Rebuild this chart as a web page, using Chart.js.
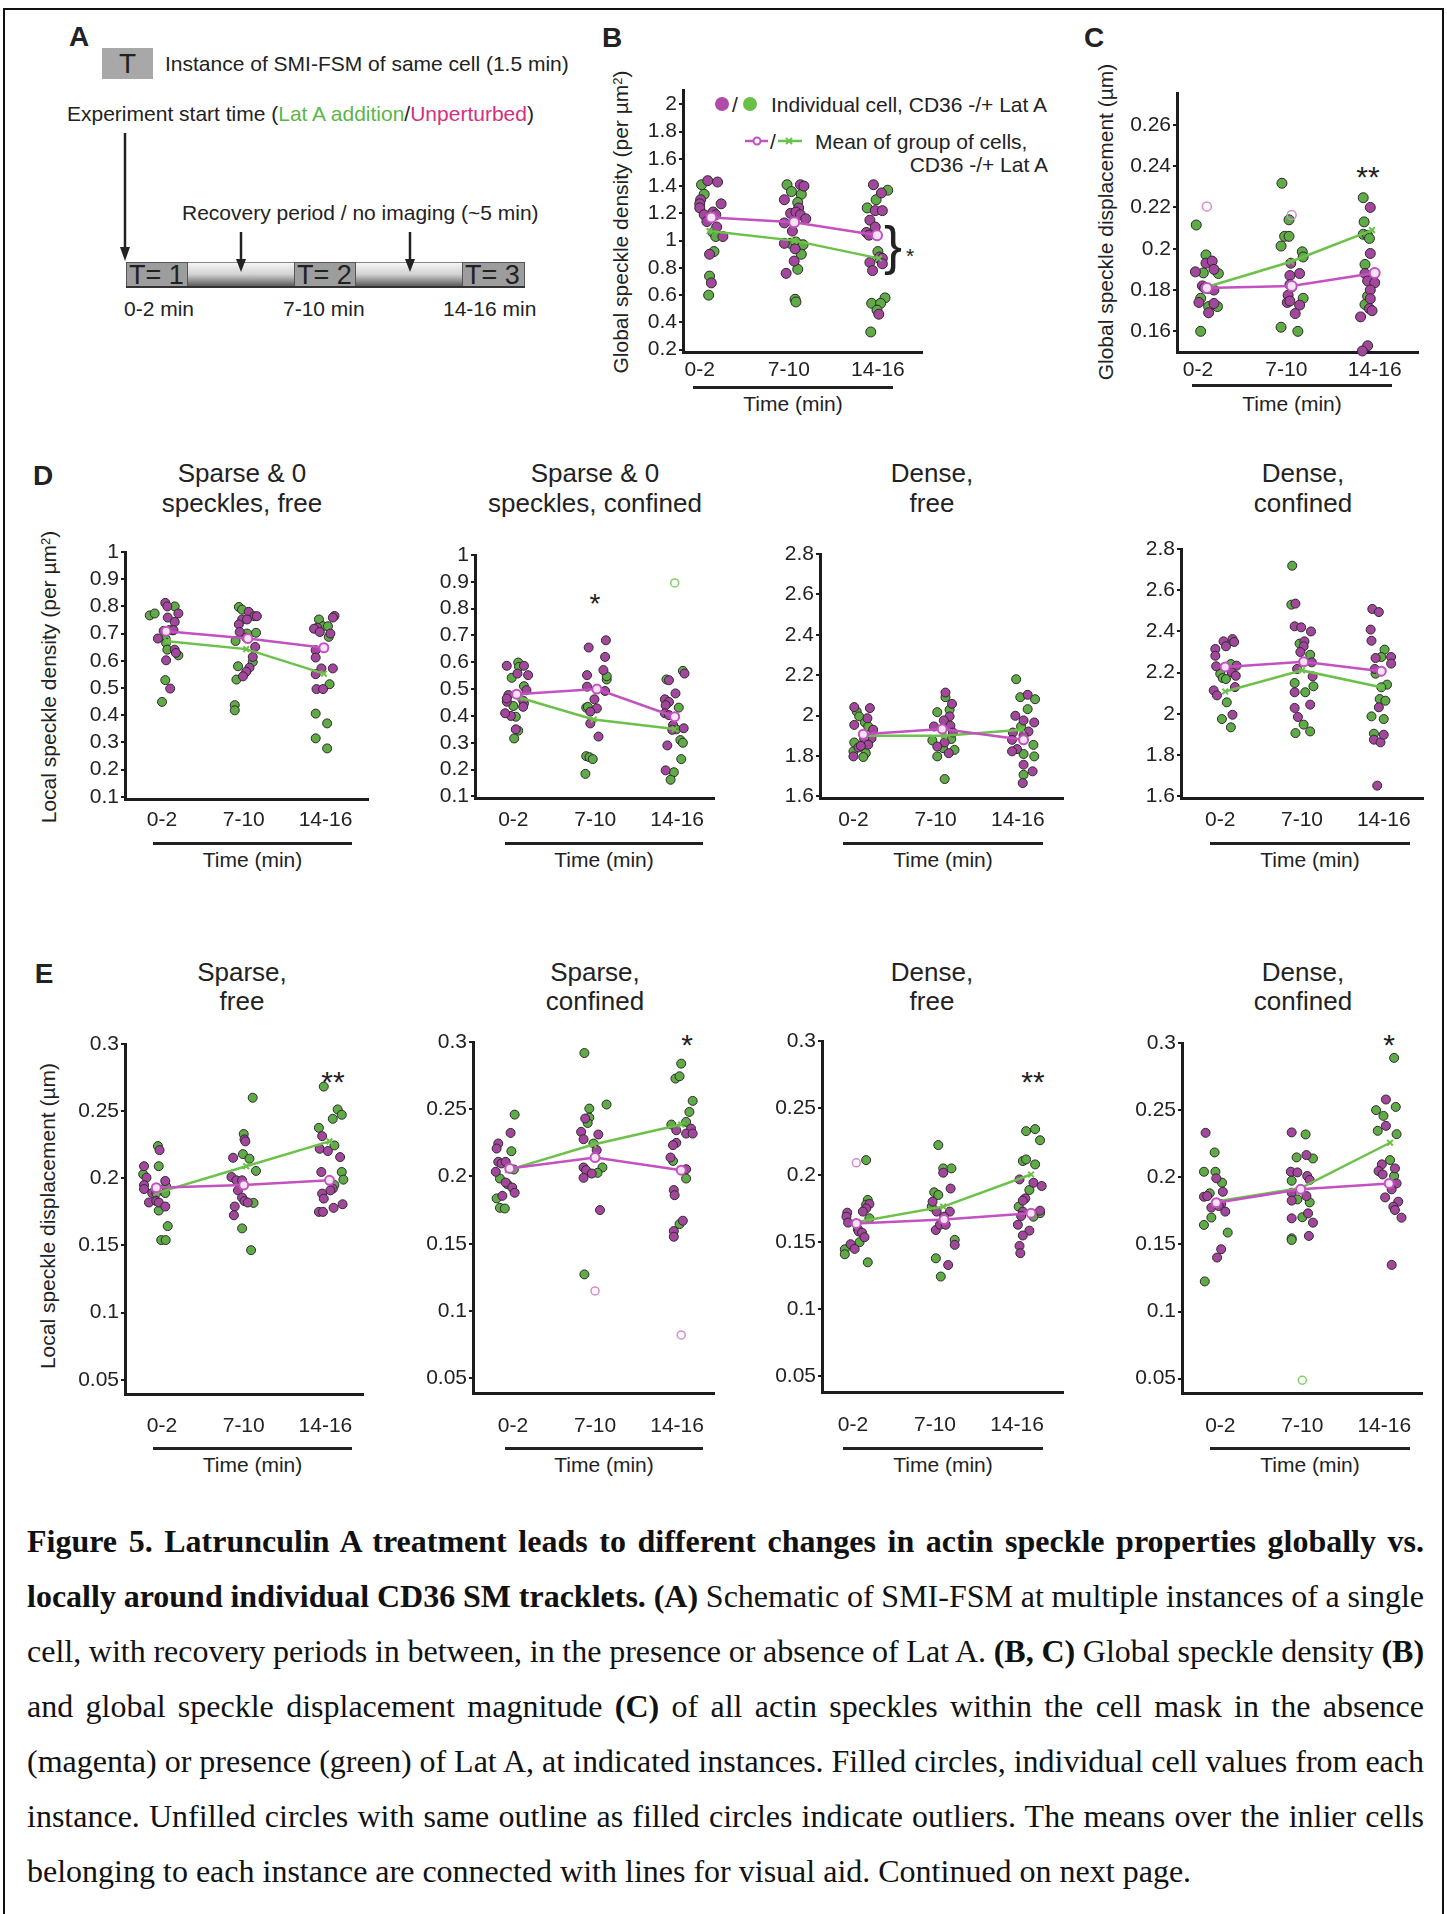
<!DOCTYPE html>
<html>
<head>
<meta charset="utf-8">
<script src="https://cdn.jsdelivr.net/npm/chart.js@4.4.1/dist/chart.umd.min.js"></script>
<style>
  html, body { margin: 0; padding: 0; background: #fff; }
  body { width: 1447px; height: 1914px; position: relative; overflow: hidden;
         font-family: "Liberation Sans", Arial, Helvetica, sans-serif; color: #222; }
  .t { position: absolute; white-space: nowrap; line-height: 1; }
  .t sup { position: relative; top: -0.5em; vertical-align: baseline; font-size: 0.62em; }
  canvas { position: absolute; }
  .frame { position: absolute; left: 3px; top: 8px; width: 1441px; height: 1930px;
           border: 2px solid #111; box-sizing: border-box; }
  .box { position: absolute; box-sizing: border-box; }
  .cap { position: absolute; left: 27px; top: 1514px; width: 1397px;
         font-family: "Liberation Serif", "Times New Roman", serif; font-size: 32px;
         line-height: 55px; color: #111; }
  .cap div { text-align: justify; text-align-last: justify; height: 55px; word-spacing: -5px; }
  .cap div.last { text-align-last: left; word-spacing: 0; }
</style>
</head>
<body>
<div class="frame"></div>

<!-- panel A schematic -->
<div class="box" style="left:102px;top:48px;width:51px;height:31px;background:#a8a8a8;"></div>
<div class="box" style="left:126px;top:262px;width:62px;height:26px;background:#9d9d9d;border:1px solid #555;"></div>
<div class="box" style="left:188px;top:262px;width:106px;height:26px;background:linear-gradient(#f6f6f6,#d2d2d2 45%,#4a4a4a);border-top:1px solid #888;"></div>
<div class="box" style="left:294px;top:262px;width:62px;height:26px;background:#9d9d9d;border:1px solid #555;"></div>
<div class="box" style="left:356px;top:262px;width:106px;height:26px;background:linear-gradient(#f6f6f6,#d2d2d2 45%,#4a4a4a);border-top:1px solid #888;"></div>
<div class="box" style="left:462px;top:262px;width:63px;height:26px;background:#9d9d9d;border:1px solid #555;"></div>
<div class="box" style="left:126px;top:286px;width:399px;height:2px;background:#333;"></div>
<svg style="position:absolute;left:0;top:0" width="600" height="330">
  <g stroke="#222" stroke-width="2.5" fill="#222">
    <line x1="125" y1="133" x2="125" y2="250"/>
    <polygon points="120,247 130,247 125,261" stroke="none"/>
    <line x1="241" y1="232" x2="241" y2="262"/>
    <polygon points="236,259 246,259 241,272" stroke="none"/>
    <line x1="410" y1="232" x2="410" y2="262"/>
    <polygon points="405,259 415,259 410,272" stroke="none"/>
  </g>
</svg>

<!-- panel B legend symbols -->
<svg style="position:absolute;left:700px;top:90px" width="120" height="70">
  <circle cx="22" cy="14" r="7" fill="#b04ba9"/>
  <circle cx="50" cy="14" r="7" fill="#6abf46"/>
  <line x1="45" y1="51" x2="68" y2="51" stroke="#c451c1" stroke-width="2.5"/>
  <circle cx="57" cy="51" r="3.5" fill="#fff" stroke="#c451c1" stroke-width="2"/>
  <line x1="78" y1="51" x2="102" y2="51" stroke="#6bc149" stroke-width="2.5"/>
  <path d="M86 48 L92 54 M92 48 L86 54" stroke="#6bc149" stroke-width="2"/>
</svg>

<div class="cap">
  <div><b>Figure 5. Latrunculin A treatment leads to different changes in actin speckle properties globally vs.</b></div>
  <div><b>locally around individual CD36 SM tracklets. (A)</b> Schematic of SMI-FSM at multiple instances of a single</div>
  <div>cell, with recovery periods in between, in the presence or absence of Lat A. <b>(B, C)</b> Global speckle density <b>(B)</b></div>
  <div>and global speckle displacement magnitude <b>(C)</b> of all actin speckles within the cell mask in the absence</div>
  <div>(magenta) or presence (green) of Lat A, at indicated instances. Filled circles, individual cell values from each</div>
  <div>instance. Unfilled circles with same outline as filled circles indicate outliers. The means over the inlier cells</div>
  <div class="last">belonging to each instance are connected with lines for visual aid. Continued on next page.</div>
</div>

<script>
// axis categories and tick labels
const timeLabels = ['0-2', '7-10', '14-16'];
const ticksB = [0.2, 0.4, 0.6, 0.8, 1, 1.2, 1.4, 1.6, 1.8, 2];
const ticksC = [0.16, 0.18, 0.2, 0.22, 0.24, 0.26];
const ticksDsparse = [0.1, 0.2, 0.3, 0.4, 0.5, 0.6, 0.7, 0.8, 0.9, 1];
const ticksDdense = [1.6, 1.8, 2, 2.2, 2.4, 2.6, 2.8];
const ticksE = [0.05, 0.1, 0.15, 0.2, 0.25, 0.3];

// B - global speckle density, [x position, value]
const bMag = [[1.09,1.44],[1.20,1.43],[1.01,1.30],[1.00,1.27],[1.00,1.24],[1.24,1.27],[1.05,1.19],[1.15,1.21],[1.18,1.19],[1.08,1.14],[1.19,1.10],[1.26,1.03],[1.11,0.90],[1.13,0.69],
  [2.13,1.41],[2.17,1.40],[1.95,1.30],[2.11,1.24],[2.02,1.20],[2.08,1.21],[2.13,1.19],[2.19,1.16],[1.95,1.13],[2.04,1.07],[1.95,0.98],[2.07,0.94],[2.06,0.85],[1.97,0.76],
  [2.95,1.41],[3.04,1.35],[2.97,1.22],[3.05,1.22],[2.91,1.15],[2.97,1.10],[2.87,1.06],[2.90,1.04],[3.02,0.88],[3.05,0.87],[2.91,0.84],[3.05,0.83],[2.94,0.78],[3.01,0.46]];
const bGrn = [[1.02,1.41],[1.05,1.34],[1.15,1.06],[1.18,1.03],[1.16,0.92],[1.11,0.74],[1.10,0.60],
  [1.98,1.41],[2.03,1.36],[2.14,1.34],[2.10,1.28],[2.02,0.98],[2.08,0.99],[2.16,0.97],[2.14,0.90],[2.10,0.79],[2.07,0.57],[2.08,0.55],
  [3.11,1.37],[2.98,1.30],[2.88,1.24],[3.00,0.92],[3.03,0.86],[3.08,0.58],[2.93,0.54],[3.03,0.54],[2.99,0.49],[2.92,0.33]];
const bMagMean = [[1.13,1.17],[2.06,1.135],[2.99,1.04]];
const bGrnMean = [[1.11,1.07],[2.06,1.00],[3.01,0.87]];

// C - global speckle displacement
const cMag = [[1.09,0.193],[1.16,0.194],[0.97,0.1888],[1.18,0.190],[1.05,0.182],[1.075,0.181],[1.11,0.1807],[1.18,0.180],[1.01,0.174],[1.18,0.1735],[1.12,0.169],
  [2.05,0.193],[2.15,0.188],[2.04,0.187],[2.04,0.1826],[2.06,0.1815],[2.02,0.1775],[2.01,0.174],[2.04,0.1747],[2.15,0.1727],[2.10,0.1686],
  [2.95,0.220],[2.95,0.1977],[2.89,0.188],[2.92,0.1844],[3.00,0.1835],[2.95,0.180],[2.95,0.1758],[2.94,0.171],[2.97,0.170],[2.84,0.167],[2.92,0.153],[2.86,0.1505]];
const cGrn = [[0.98,0.2115],[1.09,0.197],[1.06,0.1883],[1.23,0.188],[1.03,0.176],[1.12,0.172],[1.22,0.172],[1.03,0.160],
  [1.95,0.2317],[2.03,0.214],[1.98,0.206],[2.03,0.206],[1.94,0.2013],[2.18,0.1985],[2.19,0.196],[2.19,0.176],[1.94,0.162],[2.13,0.160],
  [2.87,0.2247],[2.88,0.213],[2.87,0.207],[2.92,0.2065],[2.94,0.205],[2.89,0.1924],[2.92,0.177],[2.89,0.173]];
const cMagOut = [[1.10,0.2205],[2.06,0.2163]];
const cMagMean = [[1.10,0.181],[2.06,0.182],[3.00,0.1883]];
const cGrnMean = [[1.10,0.1815],[2.05,0.1937],[2.97,0.209]];

// D - local speckle density
const d1Mag = [[1.04,0.813],[1.065,0.80],[1.07,0.759],[1.20,0.774],[1.155,0.743],[1.02,0.71],[1.09,0.713],[1.14,0.713],[0.95,0.682],[1.155,0.641],[1.17,0.629],[1.05,0.602],[1.10,0.498],
  [2.06,0.78],[1.98,0.752],[2.13,0.764],[2.16,0.764],[2.04,0.752],[1.94,0.734],[1.95,0.706],[2.03,0.685],[2.14,0.651],[2.11,0.614],[2.07,0.575],[2.03,0.56],[1.99,0.543],
  [2.90,0.722],[3.11,0.765],[3.09,0.759],[2.86,0.718],[2.93,0.706],[3.06,0.70],[2.88,0.639],[2.88,0.612],[2.95,0.572],[3.09,0.572],[2.88,0.551],[2.89,0.496],[2.97,0.496]];
const d1Grn = [[1.155,0.80],[0.85,0.767],[0.91,0.774],[1.13,0.712],[1.045,0.68],[1.05,0.666],[1.065,0.641],[1.20,0.62],[1.04,0.529],[1.00,0.449],
  [1.94,0.798],[1.98,0.788],[2.04,0.70],[2.15,0.703],[1.90,0.673],[2.11,0.596],[1.93,0.58],[1.91,0.531],[1.89,0.437],[1.89,0.418],
  [2.92,0.752],[2.97,0.727],[3.03,0.727],[3.04,0.688],[3.05,0.514],[2.88,0.406],[3.02,0.37],[2.88,0.315],[3.02,0.278]];
const d1MagMean = [[1.05,0.709],[2.05,0.682],[2.98,0.648]];
const d1GrnMean = [[1.065,0.672],[2.03,0.643],[2.98,0.553]];

const d2Mag = [[0.92,0.587],[1.13,0.587],[1.05,0.558],[1.18,0.552],[0.94,0.478],[1.16,0.496],[0.92,0.453],[0.92,0.465],[1.12,0.457],[1.12,0.434],[0.97,0.40],[0.90,0.41],[1.03,0.35],
  [1.92,0.655],[2.13,0.682],[2.12,0.62],[2.10,0.571],[1.90,0.552],[1.90,0.509],[2.12,0.493],[1.99,0.462],[2.02,0.428],[1.94,0.416],[1.94,0.372],[2.04,0.323],
  [3.09,0.558],[2.90,0.533],[2.98,0.484],[2.85,0.462],[2.90,0.452],[2.86,0.44],[2.85,0.41],[2.90,0.403],[2.95,0.366],[2.94,0.348],[3.08,0.354],[2.88,0.29],[2.86,0.197]];
const d2Grn = [[1.06,0.599],[1.07,0.583],[0.98,0.542],[1.13,0.511],[1.00,0.437],[1.13,0.447],[1.03,0.397],[1.06,0.345],[1.01,0.316],
  [2.14,0.536],[2.14,0.548],[1.89,0.431],[1.91,0.434],[1.89,0.25],[1.93,0.246],[1.97,0.239],[1.88,0.184],
  [3.07,0.568],[2.87,0.536],[3.02,0.431],[2.99,0.35],[3.04,0.31],[3.07,0.30],[3.05,0.239],[2.96,0.19],[2.92,0.162]];
const d2GrnOut = [[2.97,0.896]];
const d2MagMean = [[1.04,0.481],[2.02,0.50],[2.97,0.397]];
const d2GrnMean = [[1.08,0.468],[1.98,0.387],[2.97,0.351]];

const d3Mag = [[1.01,2.042],[1.20,2.037],[1.17,1.987],[1.01,1.954],[1.24,1.93],[1.22,1.888],[1.13,1.884],[1.18,1.856],[1.06,1.842],[1.09,1.85],[1.00,1.798],
  [2.12,2.114],[2.20,2.058],[2.17,1.996],[2.10,1.976],[1.98,1.946],[2.18,1.95],[2.21,1.916],[2.11,1.867],[2.02,1.847],[2.16,1.814],
  [3.12,2.103],[2.97,1.999],[3.20,1.966],[3.07,1.976],[2.94,1.916],[3.13,1.921],[3.07,1.90],[2.93,1.88],[2.99,1.834],[2.93,1.823],[3.07,1.757],[3.18,1.724],[3.06,1.666]];
const d3Grn = [[1.04,2.02],[1.07,1.996],[1.14,1.966],[1.18,1.946],[1.01,1.867],[1.00,1.823],[1.15,1.814],[1.12,1.795],
  [2.12,2.091],[2.17,2.029],[2.02,2.017],[1.96,1.877],[2.19,1.884],[2.09,1.839],[2.23,1.83],[2.02,1.798],[2.11,1.686],
  [2.98,2.18],[3.03,2.091],[3.21,2.081],[3.12,2.032],[3.04,1.946],[3.19,1.855],[3.07,1.81],[3.20,1.798],[3.07,1.707]];
const d3MagMean = [[1.12,1.908],[2.08,1.933],[3.07,1.88]];
const d3GrnMean = [[1.14,1.90],[2.10,1.90],[3.05,1.93]];

const d4Mag = [[1.04,2.352],[1.15,2.363],[1.17,2.349],[0.94,2.315],[1.07,2.328],[0.94,2.282],[1.20,2.234],[0.95,2.231],[1.14,2.202],[1.19,2.185],[1.18,2.13],[0.92,2.114],[0.96,2.09],[1.15,1.996],
  [1.92,2.535],[1.91,2.425],[1.99,2.42],[2.11,2.40],[2.03,2.352],[2.02,2.328],[1.98,2.30],[1.94,2.218],[2.12,2.25],[2.13,2.182],[1.91,2.105],[2.10,2.045],[1.91,2.029],[1.95,1.985],
  [2.86,2.509],[2.94,2.494],[2.84,2.409],[2.85,2.355],[2.90,2.271],[3.09,2.276],[3.09,2.244],[2.89,2.218],[2.94,2.032],[2.88,1.875],[2.96,1.862],[3.00,1.899],[2.92,1.652]];
const d4Grn = [[1.13,2.242],[1.00,2.195],[1.03,2.174],[1.07,2.169],[1.08,2.056],[1.02,1.975],[1.13,1.935],
  [1.88,2.719],[1.87,2.53],[1.97,2.341],[2.10,2.287],[1.91,2.15],[2.14,2.134],[2.04,2.105],[2.02,1.948],[1.92,1.907],[2.10,1.915],
  [3.01,2.312],[2.97,2.276],[2.90,2.195],[3.04,2.142],[2.97,2.129],[2.95,2.072],[3.02,2.064],[2.85,1.988],[3.00,1.975],[2.88,1.904]];
const d4MagMean = [[1.06,2.228],[2.02,2.253],[2.97,2.207]];
const d4GrnMean = [[1.06,2.109],[2.00,2.211],[2.97,2.129]];

// E - local speckle displacement
const e1Mag = [[0.97,0.221],[0.78,0.209],[0.81,0.2005],[0.78,0.195],[0.78,0.192],[1.04,0.198],[0.88,0.189],[0.93,0.189],[0.84,0.182],[0.93,0.183],[0.96,0.182],[1.04,0.179],
  [2.01,0.229],[2.02,0.2275],[1.87,0.2153],[1.85,0.201],[1.91,0.1985],[1.98,0.1985],[1.93,0.191],[1.98,0.1856],[2.01,0.183],[2.05,0.182],[1.89,0.179],[1.88,0.1725],
  [2.96,0.2314],[2.93,0.222],[3.03,0.2203],[3.18,0.2158],[2.95,0.2047],[3.09,0.1923],[3.06,0.191],[2.96,0.1886],[2.98,0.1849],[3.21,0.1807],[3.10,0.178],[2.92,0.175],[2.97,0.175]];
const e1Grn = [[0.95,0.224],[0.96,0.209],[0.77,0.203],[1.05,0.194],[1.04,0.189],[0.96,0.176],[1.07,0.1644],[0.99,0.154],[1.045,0.154],
  [2.11,0.260],[2.00,0.233],[1.99,0.218],[2.07,0.2146],[2.15,0.2055],[2.12,0.1817],[1.98,0.1627],[2.09,0.1465],
  [2.98,0.2683],[3.09,0.2443],[3.15,0.2513],[3.20,0.2473],[2.92,0.2376],[3.11,0.2245],[3.20,0.2047],[3.22,0.199],[3.11,0.195]];
const e1MagMean = [[0.93,0.193],[2.00,0.195],[3.05,0.1985]];
const e1GrnMean = [[0.93,0.189],[2.03,0.209],[3.05,0.2275]];

const e2Mag = [[0.97,0.2324],[0.82,0.2245],[0.80,0.2208],[0.82,0.2109],[0.86,0.2097],[0.91,0.2109],[0.79,0.2035],[0.91,0.1955],[0.99,0.1918],[1.02,0.1879],[0.87,0.1856],
  [1.88,0.2431],[1.83,0.2332],[1.86,0.2277],[2.04,0.2312],[2.02,0.2196],[1.86,0.2067],[1.89,0.2047],[1.86,0.199],[1.96,0.2022],[2.06,0.175],
  [2.99,0.2344],[3.17,0.2356],[3.11,0.2319],[3.19,0.2319],[2.99,0.225],[2.95,0.2233],[2.92,0.2141],[3.11,0.2054],[2.96,0.1899],[2.97,0.1861],[3.07,0.1671],[2.96,0.1594],[2.96,0.1552]];
const e2Grn = [[1.02,0.246],[0.98,0.2188],[1.01,0.2052],[0.84,0.1985],[0.93,0.1943],[0.80,0.1837],[0.84,0.1767],[0.90,0.1762],
  [1.87,0.2918],[1.93,0.2505],[2.14,0.2535],[1.93,0.2438],[1.91,0.2398],[1.98,0.2245],[2.09,0.2067],[2.03,0.2027],[1.87,0.1272],
  [3.05,0.2839],[2.98,0.2728],[3.03,0.2745],[3.19,0.2562],[3.15,0.248],[2.93,0.2386],[3.11,0.2406],[2.95,0.2116],[3.11,0.1985],[3.03,0.1646]];
const e2MagOut = [[2.00,0.1149],[3.05,0.0822]];
const e2MagMean = [[0.96,0.206],[2.00,0.2141],[3.05,0.2047]];
const e2GrnMean = [[0.94,0.2047],[1.98,0.2238],[3.05,0.2386]];

const e3Mag = [[1.20,0.1785],[1.16,0.1752],[1.12,0.1728],[0.93,0.172],[0.92,0.169],[0.94,0.1646],[1.07,0.158],[1.11,0.1571],[1.14,0.1537],[0.97,0.1485],[1.02,0.145],
  [2.10,0.2018],[2.19,0.19],[1.97,0.1802],[2.02,0.1728],[2.18,0.1728],[2.11,0.169],[2.01,0.1591],[2.06,0.163],[2.13,0.163],[2.24,0.148],[2.16,0.133],
  [3.03,0.1968],[3.20,0.1943],[3.30,0.1919],[3.10,0.1827],[3.07,0.181],[3.07,0.1728],[3.28,0.1735],[3.05,0.1695],[3.01,0.163],[3.15,0.1586],[3.07,0.155],[3.03,0.1472],[3.04,0.1418]];
const e3Grn = [[1.16,0.2112],[1.18,0.1815],[1.16,0.178],[1.20,0.1678],[1.06,0.1596],[1.08,0.150],[0.90,0.1447],[0.90,0.141],[1.18,0.135],
  [2.04,0.2224],[2.10,0.205],[2.20,0.205],[1.99,0.1872],[2.04,0.1852],[1.96,0.1765],[2.24,0.1517],[2.01,0.138],[2.07,0.1244],
  [3.11,0.2328],[3.22,0.2343],[3.28,0.226],[3.07,0.2105],[3.11,0.2117],[3.22,0.208],[3.15,0.1889],[3.02,0.1765],[3.28,0.1716],[3.20,0.169]];
const e3MagOut = [[1.04,0.2092]];
const e3MagMean = [[1.04,0.164],[2.11,0.167],[3.17,0.1716]];
const e3GrnMean = [[1.05,0.165],[2.10,0.1765],[3.17,0.2005]];

const e4Mag = [[0.82,0.2331],[0.95,0.1992],[1.03,0.1892],[0.80,0.1855],[0.84,0.186],[0.89,0.1774],[1.01,0.180],[0.98,0.1786],[1.06,0.1744],[1.01,0.1464],[0.96,0.1402],
  [1.87,0.2334],[2.05,0.2165],[1.86,0.2041],[1.94,0.2036],[2.06,0.2009],[2.09,0.198],[1.87,0.1885],[2.05,0.186],[1.87,0.1826],[2.07,0.1731],[1.87,0.1694],[2.13,0.1662],[2.08,0.1563],
  [3.02,0.2579],[3.02,0.2383],[2.97,0.2096],[2.93,0.2046],[2.98,0.2021],[3.13,0.2066],[3.15,0.1954],[3.09,0.191],[3.01,0.185],[3.17,0.1818],[3.11,0.1781],[3.13,0.1756],[3.21,0.1699],[3.09,0.1347]];
const e4Grn = [[0.93,0.2185],[0.80,0.2041],[0.94,0.2041],[1.02,0.196],[0.87,0.188],[0.89,0.170],[1.09,0.1588],[0.80,0.1645],[0.81,0.1224],
  [2.04,0.2319],[1.93,0.2148],[2.13,0.214],[1.87,0.1974],[1.94,0.1835],[2.09,0.1813],[2.00,0.1702],[1.87,0.1545],[1.87,0.1533],
  [3.12,0.2889],[2.90,0.250],[3.14,0.2524],[2.99,0.2457],[2.92,0.2346],[3.15,0.2321],[3.07,0.2128],[3.12,0.2009]];
const e4GrnOut = [[2.00,0.0488]];
const e4MagMean = [[0.95,0.181],[1.98,0.191],[3.06,0.1954]];
const e4GrnMean = [[0.95,0.182],[1.98,0.192],[3.07,0.2257]];

const SANS = "'Liberation Sans', Arial, Helvetica, sans-serif";
const MAG = '#a3479d', GRN = '#5fab46', EDGE = '#2e2a2e';
const MAG_LINE = '#c451c1', GRN_LINE = '#6bc149';
const MAG_OUT = '#d68bd3', GRN_OUT = '#84cc66';
const INK = '#222';

// page placement of each plot: [axis left, axis top, axis right, axis bottom]
const panels = [
  { box: [683, 90, 922, 352],   xr: [0.812, 3.495], yr: [0.183, 2.105],  yt: ticksB, lab: -2, r: 5,
    mag: bMag, grn: bGrn, magMean: bMagMean, grnMean: bGrnMean },
  { box: [1177, 93, 1418, 352], xr: [0.762, 3.49],  yr: [0.15, 0.2754],  yt: ticksC, lab: -2, r: 5,
    mag: cMag, grn: cGrn, magOut: cMagOut, magMean: cMagMean, grnMean: cGrnMean },
  { box: [125, 552, 368, 799],  xr: [0.547, 3.52],  yr: [0.092, 1.0],    yt: ticksDsparse, lab: 1, r: 4.5,
    mag: d1Mag, grn: d1Grn, magMean: d1MagMean, grnMean: d1GrnMean },
  { box: [475, 555, 714, 798],  xr: [0.532, 3.45],  yr: [0.094, 1.0],    yt: ticksDsparse, lab: 2, r: 4.5,
    mag: d2Mag, grn: d2Grn, grnOut: d2GrnOut, magMean: d2MagMean, grnMean: d2GrnMean },
  { box: [820, 554, 1063, 798], xr: [0.593, 3.55],  yr: [1.592, 2.8],    yt: ticksDdense, lab: 2, r: 4.5,
    mag: d3Mag, grn: d3Grn, magMean: d3MagMean, grnMean: d3GrnMean },
  { box: [1181, 549, 1423, 798], xr: [0.52, 3.48],  yr: [1.592, 2.8],    yt: ticksDdense, lab: 2, r: 4.5,
    mag: d4Mag, grn: d4Grn, magMean: d4MagMean, grnMean: d4GrnMean },
  { box: [125, 1044, 363, 1394], xr: [0.547, 3.46], yr: [0.0394, 0.3],   yt: ticksE, lab: 12, r: 4.5,
    mag: e1Mag, grn: e1Grn, magMean: e1MagMean, grnMean: e1GrnMean },
  { box: [473, 1042, 714, 1393], xr: [0.512, 3.45], yr: [0.039, 0.3],    yt: ticksE, lab: 13, r: 4.5,
    mag: e2Mag, grn: e2Grn, magOut: e2MagOut, magMean: e2MagMean, grnMean: e2GrnMean },
  { box: [822, 1041, 1063, 1392], xr: [0.622, 3.56], yr: [0.0383, 0.3],  yt: ticksE, lab: 13, r: 4.5,
    mag: e3Mag, grn: e3Grn, magOut: e3MagOut, magMean: e3MagMean, grnMean: e3GrnMean },
  { box: [1182, 1043, 1422, 1393], xr: [0.532, 3.46], yr: [0.0393, 0.3], yt: ticksE, lab: 13, r: 4.5,
    mag: e4Mag, grn: e4Grn, grnOut: e4GrnOut, magMean: e4MagMean, grnMean: e4GrnMean }
];

function fmt(v) { return String(Math.round(v * 100) / 100); }

function label(html, x, y, o = {}) {
  const d = document.createElement('div');
  d.className = 't';
  d.innerHTML = html;
  d.style.fontSize = (o.size || 21) + 'px';
  if (o.bold) d.style.fontWeight = 'bold';
  d.style.color = o.color || INK;
  const ax = o.anchor === 'center' ? '-50%' : o.anchor === 'right' ? '-100%' : '0';
  d.style.left = x + 'px';
  d.style.top = y + 'px';
  d.style.transform = 'translate(' + ax + ', -50%)' + (o.rotate ? ' rotate(-90deg)' : '');
  document.body.appendChild(d);
  return d;
}

// asterisks sit high in the em box, so shift to put the glyph centre at y
function star(text, x, y, size) {
  label(text, x, y + 0.238 * size, { size: size, anchor: 'center' });
}

function timeAxis(x0, x1, y, ty) {
  const d = document.createElement('div');
  d.className = 'box';
  d.style.cssText += 'left:' + x0 + 'px;top:' + (y - 1.5) + 'px;width:' + (x1 - x0) + 'px;height:3px;background:#222;';
  document.body.appendChild(d);
  label('Time (min)', (x0 + x1) / 2, ty, { anchor: 'center' });
}

function drawPanel(p) {
  const YW = 70, PT = 16, PR = 8, XH = 60;
  const [x0, y0, x1, y1] = p.box;
  const w = x1 - x0 + YW + PR, h = y1 - y0 + PT + XH;
  const cv = document.createElement('canvas');
  cv.width = w; cv.height = h;
  cv.style.left = (x0 - YW) + 'px';
  cv.style.top = (y0 - PT) + 'px';
  cv.style.width = w + 'px';
  cv.style.height = h + 'px';
  document.body.appendChild(cv);

  const dots = (data, fill, stroke, r, bw, order) => ({
    data: data || [], showLine: false, pointRadius: r, pointBackgroundColor: fill,
    pointBorderColor: stroke, pointBorderWidth: bw, order: order, clip: false
  });

  new Chart(cv, {
    type: 'scatter',
    data: {
      datasets: [
        { data: p.magMean, showLine: true, borderColor: MAG_LINE, borderWidth: 2.5, pointStyle: 'circle',
          pointRadius: p.r, pointBackgroundColor: '#f6e3f5', pointBorderColor: MAG_LINE, pointBorderWidth: 2,
          order: 0, clip: false },
        { data: p.grnMean, showLine: true, borderColor: GRN_LINE, borderWidth: 2.5, pointStyle: 'crossRot',
          pointRadius: 4, pointBorderColor: GRN_LINE, pointBorderWidth: 2, order: 0, clip: false },
        dots(p.magOut, 'rgba(0,0,0,0)', MAG_OUT, p.r - 0.5, 1.5, 1),
        dots(p.grnOut, 'rgba(0,0,0,0)', GRN_OUT, p.r - 0.5, 1.5, 1),
        dots(p.mag, MAG, EDGE, p.r, 1, 2),
        dots(p.grn, GRN, EDGE, p.r, 1, 2)
      ]
    },
    options: {
      responsive: false,
      animation: false,
      events: [],
      devicePixelRatio: 1,
      layout: { padding: { left: 0, top: PT, right: PR, bottom: 0 } },
      plugins: { legend: { display: false }, tooltip: { enabled: false } },
      scales: {
        x: {
          type: 'linear', min: p.xr[0], max: p.xr[1], bounds: 'data',
          afterBuildTicks: s => { s.ticks = [1, 2, 3].map(v => ({ value: v })); },
          afterFit: s => { s.height = XH; },
          ticks: { callback: v => timeLabels[Math.round(v) - 1], padding: p.lab, autoSkip: false, maxRotation: 0,
                   font: { family: SANS, size: 21 }, color: INK },
          grid: { display: false },
          border: { display: true, color: '#1c1c1c', width: 3 }
        },
        y: {
          type: 'linear', min: p.yr[0], max: p.yr[1], bounds: 'data',
          afterBuildTicks: s => { s.ticks = p.yt.map(v => ({ value: v })); },
          afterFit: s => { s.width = YW; },
          ticks: { callback: v => fmt(v), padding: 2, autoSkip: false, font: { family: SANS, size: 21 }, color: INK },
          grid: { display: true, drawOnChartArea: false, drawTicks: true, tickLength: 4, color: '#1c1c1c', lineWidth: 2 },
          border: { display: true, color: '#1c1c1c', width: 3 }
        }
      }
    }
  });
}

// ---- panel letters
label('A', 79, 37, { size: 28, bold: true, anchor: 'center' });
label('B', 612, 38, { size: 28, bold: true, anchor: 'center' });
label('C', 1094, 38, { size: 28, bold: true, anchor: 'center' });
label('D', 43, 476, { size: 28, bold: true, anchor: 'center' });
label('E', 44, 974, { size: 28, bold: true, anchor: 'center' });

// ---- panel A text
label('T', 127.5, 64, { size: 28, anchor: 'center' });
label('Instance of SMI-FSM of same cell (1.5 min)', 165, 63);
label('Experiment start time (<span style="color:#5cb646">Lat A addition</span>/<span style="color:#d4307d">Unperturbed</span>)', 67, 113);
label('Recovery period / no imaging (~5 min)', 182, 212);
label('T= 1', 129, 275, { size: 27 });
label('T= 2', 297, 275, { size: 27 });
label('T= 3', 465, 275, { size: 27 });
label('0-2 min', 124, 308);
label('7-10 min', 283, 308);
label('14-16 min', 443, 308);

// ---- panel B legend and marks
label('/', 735, 104, { anchor: 'center' });
label('Individual cell, CD36 -/+ Lat A', 771, 104);
label('/', 773, 141, { anchor: 'center' });
label('Mean of group of cells,', 815, 141);
label('CD36 -/+ Lat A', 1048, 164, { anchor: 'right' });
label('}', 893, 245, { size: 54, anchor: 'center' });
star('*', 910, 250, 21);

// ---- y axis titles
label('Global speckle density (per µm<sup>2</sup>)', 620, 222, { anchor: 'center', rotate: true });
label('Global speckle displacement (µm)', 1105, 222, { anchor: 'center', rotate: true });
label('Local speckle density (per µm<sup>2</sup>)', 48, 677, { anchor: 'center', rotate: true });
label('Local speckle displacement (µm)', 47, 1216, { anchor: 'center', rotate: true });

// ---- subplot titles
const titleX = [242, 595, 932, 1303];
[['Sparse &amp; 0', 'speckles, free'], ['Sparse &amp; 0', 'speckles, confined'], ['Dense,', 'free'], ['Dense,', 'confined']]
  .forEach((t, i) => { label(t[0], titleX[i], 473, { size: 26, anchor: 'center' }); label(t[1], titleX[i], 503, { size: 26, anchor: 'center' }); });
[['Sparse,', 'free'], ['Sparse,', 'confined'], ['Dense,', 'free'], ['Dense,', 'confined']]
  .forEach((t, i) => { label(t[0], titleX[i], 972, { size: 26, anchor: 'center' }); label(t[1], titleX[i], 1001, { size: 26, anchor: 'center' }); });

// ---- significance marks
star('**', 1368, 170, 30);
star('*', 595, 597, 28);
star('**', 333, 1075, 30);
star('*', 687, 1038, 30);
star('**', 1033, 1075, 30);
star('*', 1389, 1038, 30);

// ---- time axes under each plot
timeAxis(693, 893, 387, 403);
timeAxis(1192, 1392, 385, 403);
[[153, 352], [505, 703], [843, 1043], [1210, 1410]].forEach(s => {
  timeAxis(s[0], s[1], 843, 859);
  timeAxis(s[0], s[1], 1448, 1464);
});

panels.forEach(drawPanel);
</script>
</body>
</html>
